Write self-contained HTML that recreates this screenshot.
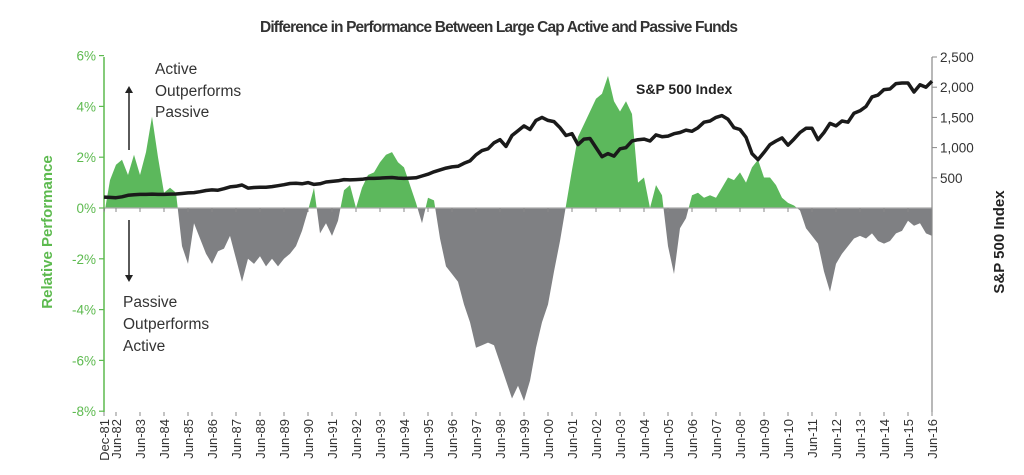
<!DOCTYPE html>
<html><head><meta charset="utf-8"><style>
body{margin:0;background:#fff;width:1024px;height:470px;overflow:hidden}
svg{font-family:"Liberation Sans",sans-serif}
</style></head><body>
<svg id="chart" width="1024" height="470">
<text x="499" y="32" text-anchor="middle" font-size="15.5" font-weight="bold" fill="#333" textLength="478">Difference in Performance Between Large Cap Active and Passive Funds</text>
<text transform="translate(52,232) rotate(-90)" text-anchor="middle" font-size="15" font-weight="bold" fill="#5dba4f">Relative Performance</text>
<text transform="translate(1004,242) rotate(-90)" text-anchor="middle" font-size="15" font-weight="bold" fill="#222">S&amp;P 500 Index</text>
<g id="areas"></g><g id="axes"></g><g id="line"></g>
<g font-size="15.5" fill="#333">
<text x="155" y="74">Active</text>
<text x="155" y="96">Outperforms</text>
<text x="155" y="117">Passive</text>
<text x="123" y="307">Passive</text>
<text x="123" y="329">Outperforms</text>
<text x="123" y="351">Active</text>
<line x1="129" y1="150" x2="129" y2="92" stroke="#222" stroke-width="1.5"/>
<polygon points="125,93 133,93 129,86" fill="#222"/>
<line x1="129" y1="220" x2="129" y2="276" stroke="#222" stroke-width="1.5"/>
<polygon points="125,275 133,275 129,282" fill="#222"/>
<text x="636" y="94" font-weight="bold" fill="#222" font-size="14">S&amp;P 500 Index</text>
</g>
</svg>
<script>
const rel=[-0.3,1.1,1.7,1.9,1.3,2.1,1.3,2.2,3.6,2.0,0.6,0.8,0.6,-1.5,-2.2,-0.6,-1.2,-1.8,-2.2,-1.7,-1.6,-1.1,-2.0,-2.9,-2.0,-2.2,-1.9,-2.3,-2.0,-2.3,-2.0,-1.8,-1.5,-0.9,-0.1,0.8,-1.0,-0.6,-1.1,-0.5,0.7,0.9,0.0,0.8,1.3,1.4,1.8,2.1,2.2,1.8,1.6,0.9,0.2,-0.6,0.4,0.3,-1.2,-2.3,-2.6,-2.9,-3.8,-4.5,-5.5,-5.4,-5.3,-5.4,-6.1,-6.8,-7.5,-7.0,-7.6,-6.8,-5.5,-4.5,-3.8,-2.5,-1.3,0.1,1.5,2.8,3.3,3.8,4.3,4.5,5.2,4.2,3.8,4.2,3.7,1.0,1.2,0.0,0.9,0.5,-1.5,-2.6,-0.8,-0.4,0.5,0.6,0.4,0.5,0.4,0.8,1.2,1.1,1.4,1.0,1.6,1.9,1.2,1.2,0.9,0.4,0.2,0.1,-0.1,-0.8,-1.1,-1.4,-2.5,-3.3,-2.2,-1.8,-1.5,-1.2,-1.1,-1.2,-1.0,-1.3,-1.4,-1.3,-1.0,-0.9,-0.5,-0.7,-0.6,-1.0,-1.1];
const spx=[180,175,170,185,210,220,225,225,230,225,225,230,232,240,250,255,270,290,300,295,320,350,360,380,330,340,345,345,355,370,385,405,410,400,420,390,400,430,440,450,470,465,470,475,490,490,495,500,505,495,490,495,500,530,560,600,630,660,680,690,740,780,880,950,980,1080,1130,1020,1200,1280,1360,1300,1450,1500,1450,1430,1330,1200,1230,1050,1140,1150,1000,850,900,860,980,1000,1110,1130,1140,1110,1210,1180,1190,1230,1250,1290,1270,1330,1420,1440,1500,1530,1470,1330,1300,1170,900,800,920,1050,1110,1160,1040,1140,1250,1320,1320,1130,1250,1400,1360,1440,1420,1570,1610,1680,1840,1870,1960,1970,2060,2070,2070,1920,2040,2000,2100];
const leftTicks=[6,4,2,0,-2,-4,-6,-8];
const rightTicks=[500,1000,1500,2000,2500];
const xLabels=["Dec-81","Jun-82","Jun-83","Jun-84","Jun-85","Jun-86","Jun-87","Jun-88","Jun-89","Jun-90","Jun-91","Jun-92","Jun-93","Jun-94","Jun-95","Jun-96","Jun-97","Jun-98","Jun-99","Jun-00","Jun-01","Jun-02","Jun-03","Jun-04","Jun-05","Jun-06","Jun-07","Jun-08","Jun-09","Jun-10","Jun-11","Jun-12","Jun-13","Jun-14","Jun-15","Jun-16"];
const NS="http://www.w3.org/2000/svg";
const X0=104,X1=932,Y0=208;
const xq=i=>X0+(X1-X0)*i/(rel.length-1);
const xm=m=>X0+(X1-X0)*m/414;
const yL=v=>Y0-v*25.4;
const yR=v=>Y0-v*(151/2500);
function mk(t,a,p){const e=document.createElementNS(NS,t);for(const k in a)e.setAttribute(k,a[k]);p.appendChild(e);return e;}
const svg=document.getElementById('chart');
const defs=mk('defs',{},svg);
const cu=mk('clipPath',{id:'cu'},defs);mk('rect',{x:0,y:0,width:1024,height:Y0},cu);
const cd=mk('clipPath',{id:'cd'},defs);mk('rect',{x:0,y:Y0,width:1024,height:300},cd);
let d='M'+xq(0)+','+Y0;
rel.forEach((v,i)=>{d+=' L'+xq(i).toFixed(1)+','+yL(v).toFixed(1);});
d+=' L'+xq(rel.length-1)+','+Y0+' Z';
const areas=document.getElementById('areas');
const ga=mk('path',{d:d,fill:'#5cb85c','clip-path':'url(#cu)'},areas);


const gb=mk('path',{d:d,fill:'#7f8083','clip-path':'url(#cd)'},areas);


const ax=document.getElementById('axes');
mk('line',{x1:X0,y1:Y0,x2:X1,y2:Y0,stroke:'#aaa','stroke-width':1.2},ax);
mk('line',{x1:X0,y1:57,x2:X0,y2:412,stroke:'#5dba4f','stroke-width':1.5},ax);
mk('line',{x1:X1,y1:57,x2:X1,y2:412,stroke:'#888','stroke-width':1.2},ax);
leftTicks.forEach(v=>{
 mk('line',{x1:X0-5,y1:yL(v),x2:X0,y2:yL(v),stroke:'#5dba4f','stroke-width':1.2},ax);
 const t=mk('text',{x:X0-8,y:yL(v)+5,'text-anchor':'end','font-size':13.5,fill:'#5dba4f'},ax);
 t.textContent=v+'%';
 
 
});
rightTicks.forEach(v=>{
 mk('line',{x1:X1,y1:yR(v),x2:X1+5,y2:yR(v),stroke:'#888','stroke-width':1},ax);
 const t=mk('text',{x:X1+8,y:yR(v)+5,'font-size':13.5,fill:'#333'},ax);
 t.textContent=v.toLocaleString('en-US');
 
 
});
xLabels.forEach((s,i)=>{
 const m=i===0?0:6+12*(i-1);
 const x=xm(m);
 mk('line',{x1:x,y1:Y0,x2:x,y2:Y0+4,stroke:'#888','stroke-width':1},ax);
 mk('line',{x1:x,y1:412,x2:x,y2:416,stroke:'#888','stroke-width':1},ax);
 const t=mk('text',{transform:'translate('+(x+5)+',419) rotate(-90)','text-anchor':'end','font-size':13,fill:'#333'},ax);
 t.textContent=s;
 
 
});
let ld='';
spx.forEach((v,i)=>{ld+=(i?' L':'M')+xq(i).toFixed(1)+','+yR(v).toFixed(1);});
const ln=mk('path',{d:ld,fill:'none',stroke:'#1a1a1a','stroke-width':3.5,'stroke-linejoin':'round'},document.getElementById('line'));


</script>
</body></html>
